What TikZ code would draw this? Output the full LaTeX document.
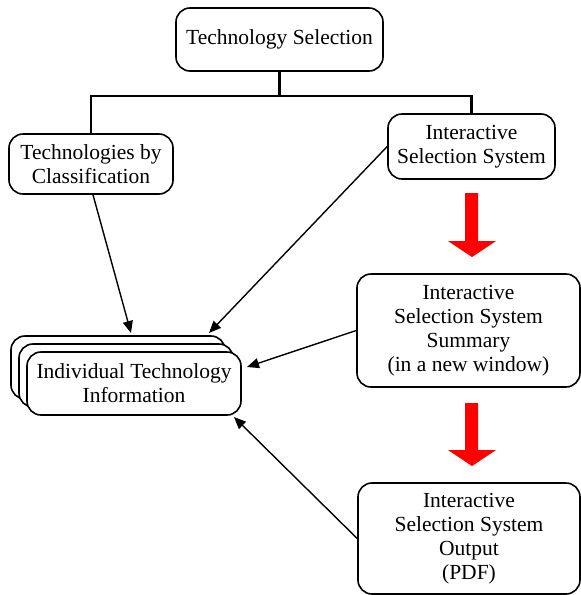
\documentclass[tikz,border=0pt]{standalone}
\usepackage{fontspec}
\setmainfont{Liberation Serif}
\usetikzlibrary{arrows.meta,calc}
\begin{document}
\begin{tikzpicture}[x=1pt,y=-1pt,
  box/.style={draw,line width=1.6pt,rounded corners=14pt,fill=white,
    inner sep=0pt,align=center,font=\fontsize{21.5}{24}\selectfont},
  link/.style={line width=1.4pt,-{Triangle[length=12pt,width=10pt]}},
  tree/.style={line width=2.6pt},
  bigarrow/.style={fill=red,draw=none}]
\useasboundingbox (0,0) rectangle (581,595);

% top-level boxes
\node[box,minimum width=207,minimum height=63] (top) at (279.5,39.5) {Technology Selection};
\node[box,minimum width=164,minimum height=60] (cls) at (91,164) {Technologies by\\Classification};
\node[box,minimum width=167,minimum height=65] (iss) at (471.5,146.5) {Interactive\\Selection System};

% tree joining the top box to its two children
\draw[tree] (top.south) -- (top.south |- 0,96);
\draw[tree] (cls.north) -- (cls.north |- 0,96) -- (iss.north |- 0,96) -- (iss.north);

% stacked technology sheets
\node[box,minimum width=214,minimum height=63] (ind3) at (118,367.5) {};
\node[box,minimum width=214,minimum height=63] (ind2) at (126,375.5) {};
\node[box,minimum width=214,minimum height=63] (ind1) at (134,383.5) {Individual Technology\\Information};

% summary and output boxes
\node[box,minimum width=223,minimum height=113] (sum) at (468.5,330.5) {Interactive\\Selection System\\Summary\\(in a new window)};
\node[box,minimum width=222,minimum height=111] (out) at (469,538.5) {Interactive\\Selection System\\Output\\(PDF)};

% red block arrows between the steps
\fill[bigarrow] (465,193) -- (478,193) -- (478,241) -- (496,241) -- (472,257) -- (448,241) -- (465,241) -- cycle;
\fill[bigarrow] (465,403) -- (478,403) -- (478,450) -- (496,450) -- (472,466) -- (448,450) -- (465,450) -- cycle;

% links into the technology sheets
\coordinate (e1) at (131,333);
\coordinate (e2) at (209,333);
\coordinate (e3) at (247,367);
\coordinate (e4) at (234,417);
\draw[link] ($(cls.south)+(2,0)$) -- (e1);
\draw[link] (iss.west) -- (e2);
\draw[link] (sum.west) -- (e3);
\draw[link] (out.west) -- (e4);
\end{tikzpicture}
\end{document}
